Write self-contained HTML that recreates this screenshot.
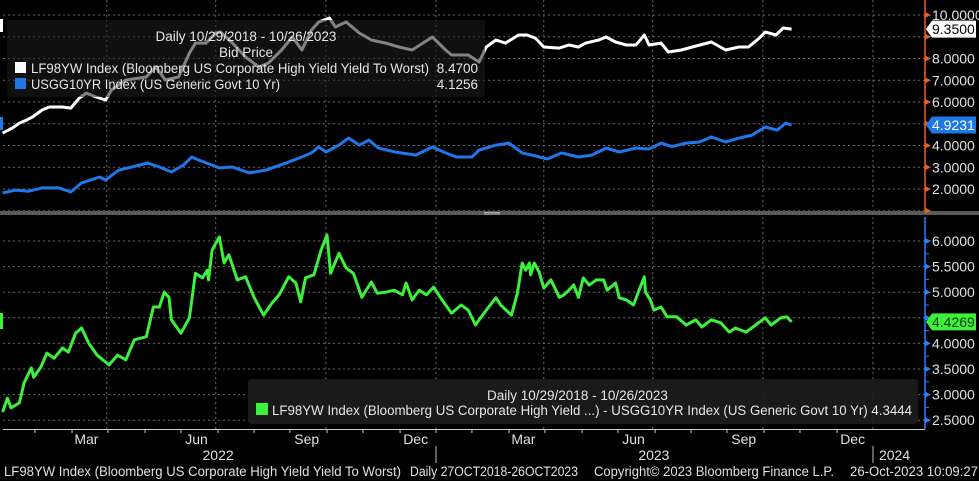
<!DOCTYPE html>
<html><head><meta charset="utf-8"><style>
html,body{margin:0;padding:0;background:#000;}
svg{display:block;font-family:"Liberation Sans",sans-serif;}
</style></head><body>
<svg id="chart" width="979" height="481" viewBox="0 0 979 481" xmlns="http://www.w3.org/2000/svg">
<rect x="0" y="0" width="979" height="481" fill="#000"/>
<g id="grid"></g>
<g id="series"></g>
<g id="axes"></g>
<g id="overlay"></g>
</svg>
<script>
// ---- data ----
const hyDays = [3,11,17,23,28,36,42,53,60,67,73,81,89,94,106,123,131,139,150,159,164,173,181,185,195,206,217,225,236,245,253,261,267,276,281,290,301,311,323,334,345,362,373,378,392,401,407,415,423,434,441,448,455,468,476,484,490,501,507,515,524,532,539,543,553,559,570,579,595,607,618,626,635,640,649,655,662];
const hyValues = [4.57,4.80,5.03,5.17,5.31,5.63,5.77,5.77,5.72,6.18,6.41,6.23,6.09,6.55,7.01,7.15,7.61,7.01,7.15,8.25,8.71,8.71,9.17,9.22,8.71,8.07,7.61,7.79,8.39,8.99,8.39,9.31,9.68,9.86,9.45,9.68,9.17,8.85,8.71,8.53,8.39,8.99,8.39,8.16,8.16,7.84,8.53,8.85,8.71,9.08,9.08,8.94,8.53,8.48,8.62,8.53,8.71,8.85,8.99,8.76,8.62,8.62,9.08,8.62,8.71,8.30,8.39,8.53,8.76,8.39,8.53,8.53,8.94,9.22,9.08,9.40,9.35];
const tyDays = [3,14,25,36,50,60,69,84,89,100,111,124,134,144,154,161,167,178,184,195,209,223,240,251,261,267,273,284,292,301,309,317,331,348,362,373,382,395,401,415,426,437,445,458,470,484,495,507,518,532,543,553,562,574,585,595,607,618,629,640,650,657,662];
const tyValues = [1.82,1.95,1.90,2.05,2.05,1.86,2.28,2.55,2.41,2.87,3.01,3.20,3.01,2.78,3.10,3.47,3.33,3.10,2.97,3.01,2.74,2.87,3.20,3.43,3.66,3.93,3.70,4.02,4.34,4.02,4.25,3.88,3.70,3.56,3.93,3.66,3.47,3.47,3.79,4.02,4.11,3.66,3.56,3.38,3.66,3.47,3.56,3.88,3.70,3.88,3.84,4.11,3.95,4.11,4.16,4.39,4.16,4.34,4.48,4.85,4.71,5.03,4.94];
const spDays = [3,7,10,17,21,27,29,35,40,46,53,58,64,69,75,82,92,99,106,113,123,129,134,138,142,144,152,159,164,170,174,175,178,184,188,192,199,206,213,221,228,234,242,248,252,256,263,269,274,277,284,290,296,303,311,316,323,330,337,340,345,351,357,363,370,378,386,392,398,401,407,415,419,428,433,437,440,443,444,447,451,455,461,468,472,476,480,484,488,493,499,505,508,515,518,524,530,534,539,540,544,547,553,558,566,574,582,587,595,603,610,615,624,632,640,645,653,658,662];
const spValues = [2.66,2.93,2.74,2.84,3.23,3.52,3.34,3.54,3.81,3.71,3.91,3.83,4.20,4.30,4.0,3.77,3.58,3.77,3.68,4.07,4.13,4.71,4.71,5.0,4.9,4.46,4.20,4.5,5.37,5.28,5.43,5.24,5.82,6.08,5.57,5.73,5.24,5.30,4.9,4.55,4.79,4.95,5.3,5.18,4.81,5.28,5.34,5.82,6.12,5.37,5.76,5.47,5.37,4.9,5.2,4.98,5.0,5.04,4.95,5.18,4.85,5.04,4.95,5.1,4.85,4.59,4.75,4.65,4.36,4.46,4.65,4.89,4.75,4.55,4.98,5.57,5.43,5.57,5.34,5.57,5.40,5.08,5.24,4.9,4.95,5.04,5.14,4.9,5.28,5.14,5.24,5.24,5.04,5.18,4.89,4.85,4.75,5.0,5.30,5.0,4.85,4.65,4.71,4.52,4.52,4.36,4.46,4.32,4.46,4.40,4.22,4.30,4.22,4.36,4.5,4.36,4.5,4.52,4.42];
const upperTicks = [10,9,8,7,6,5,4,3,2,1];
const upperTickLabels = ["10.0000","","8.0000","7.0000","6.0000","","4.0000","3.0000","2.0000",""];
const lowerTicks = [6.0,5.5,5.0,4.5,4.0,3.5,3.0,2.5];
const lowerTickLabels = ["6.0000","5.5000","5.0000","","4.0000","3.5000","3.0000","2.5000"];
const monthLabels = ["Mar","Jun","Sep","Dec","Mar","Jun","Sep","Dec"];
const monthLabelDays = [73,165,257,348,438,530,622,713];
const gridDays = [90,181,273,365,455,546,638,730];
const yearLabels = ["2022","2023","2024"];
const yearLabelDays = [183,547,748];
const lastHY = "9.3500", lastTY = "4.9231", lastSP = "4.4269";

// ---- scales ----
const NS = "http://www.w3.org/2000/svg";
const xDay = d => -1 + d * 437 / 365;
const yUp = v => 15 + (10 - v) * 21.75;
const yLo = v => 241 + (6 - v) * 51.2;
function mk(tag, attrs, parent, text){
  const e = document.createElementNS(NS, tag);
  for (const k in attrs) e.setAttribute(k, attrs[k]);
  if (text !== undefined) e.textContent = text;
  parent.appendChild(e); return e;
}
const grid = document.getElementById('grid');
const series = document.getElementById('series');
const axes = document.getElementById('axes');
const overlay = document.getElementById('overlay');
const dot = {stroke:"#6a6a6a","stroke-width":1,"stroke-dasharray":"2,3"};

// grid
upperTicks.forEach(v => {
  const l = mk('line', Object.assign({x1:3,x2:925,y1:yUp(v),y2:yUp(v)}, dot), grid);
  
  
});
lowerTicks.forEach(v => {
  const l = mk('line', Object.assign({x1:3,x2:925,y1:yLo(v),y2:yLo(v)}, dot), grid);
  
  
});
gridDays.forEach(d => {
  const l1 = mk('line', Object.assign({x1:xDay(d),x2:xDay(d),y1:0,y2:210}, dot), grid);
  
  
  const l2 = mk('line', Object.assign({x1:xDay(d),x2:xDay(d),y1:217,y2:429}, dot), grid);
  
  
});

// series
function drawLine(days, vals, yf, color, name){
  const pts = days.map((d,i) => xDay(d).toFixed(1) + "," + yf(vals[i]).toFixed(1)).join(" ");
  const p = mk('polyline', {points:pts, fill:"none", stroke:color, "stroke-width":3, "stroke-linejoin":"round"}, series);
  
  
}
drawLine(hyDays, hyValues, yUp, "#ffffff", "hy-yield-line");
drawLine(tyDays, tyValues, yUp, "#1f78ea", "us10y-line");
drawLine(spDays, spValues, yLo, "#3cf03c", "spread-line");

// separator
const sep = mk('rect', {x:0,y:211,width:979,height:4,fill:"#5a5a5a"}, axes);


mk('line',{x1:484,x2:500,y1:212.5,y2:212.5,stroke:"#aaa","stroke-width":1},axes);
mk('line',{x1:484,x2:500,y1:214,y2:214,stroke:"#aaa","stroke-width":1},axes);

// right axes
const ua = mk('line',{x1:925,x2:925,y1:0,y2:211,stroke:"#e8602c","stroke-width":1.5},axes);
 
const la = mk('line',{x1:925,x2:925,y1:217,y2:429,stroke:"#2a7fff","stroke-width":1.5},axes);
 
upperTicks.forEach((v,i) => {
  const y = yUp(v);
  mk('path',{d:`M925 ${y-3} L931 ${y} L925 ${y+3}Z`,fill:"#e8602c"},axes);
  if (upperTickLabels[i]) {
    const t = mk('text',{x:932,y:y+5,fill:"#e0e0e0","font-size":14},axes,upperTickLabels[i]);
     
  }
});
lowerTicks.forEach((v,i) => {
  const y = yLo(v);
  mk('path',{d:`M925 ${y-3} L931 ${y} L925 ${y+3}Z`,fill:"#2a7fff"},axes);
  if (lowerTickLabels[i]) {
    const t = mk('text',{x:932,y:y+5,fill:"#e0e0e0","font-size":14},axes,lowerTickLabels[i]);
     
  }
});
for (let v = 5.75; v > 2.4; v -= 0.5) mk('line',{x1:925,x2:929,y1:yLo(v),y2:yLo(v),stroke:"#2a7fff"},axes);

// last value tags
function tag(v, yf, bg, fg, txt, name){
  const y = yf(v);
  const g = mk('g',{},overlay);
  
  
  mk('path',{d:`M926 ${y} L932 ${y-8.5} L976 ${y-8.5} L976 ${y+8.5} L932 ${y+8.5}Z`,fill:bg},g);
  mk('text',{x:932,y:y+5,fill:fg,"font-size":14},g,txt);
}
tag(hyValues[hyValues.length-1], yUp, "#ffffff", "#000", lastHY, "hy-last-value-tag");
tag(tyValues[tyValues.length-1], yUp, "#1f78ea", "#fff", lastTY, "us10y-last-value-tag");
tag(spValues[spValues.length-1], yLo, "#3cf03c", "#0a3a0a", lastSP, "spread-last-value-tag");

// left markers
mk('rect',{x:0,y:19,width:3,height:13,fill:"#fff"},overlay);
mk('rect',{x:0,y:117,width:3,height:13,fill:"#1f78ea"},overlay);
mk('rect',{x:0,y:313,width:3,height:16,fill:"#3cf03c"},overlay);

// x axis
const xa = mk('line',{x1:3,x2:925,y1:429.5,y2:429.5,stroke:"#cfcfcf","stroke-width":1},axes);
 
for (let m = 1; m < 24; m++) {
  const d = Math.round(m * 365 / 12);
  mk('line',{x1:xDay(d),x2:xDay(d),y1:429,y2:433,stroke:"#cfcfcf"},axes);
}
monthLabels.forEach((s,i) => {
  const t = mk('text',{x:xDay(monthLabelDays[i]),y:444,fill:"#e0e0e0","font-size":14,"text-anchor":"middle"},axes,s);
   
});
yearLabels.forEach((s,i) => {
  const t = mk('text',{x:xDay(yearLabelDays[i]),y:460,fill:"#e0e0e0","font-size":14,"text-anchor":"middle"},axes,s);
   
});
[365,730].forEach(d => mk('line',{x1:xDay(d),x2:xDay(d),y1:446,y2:463,stroke:"#bbb"},axes));

// upper legend
const lg = mk('g',{},overlay);


mk('rect',{x:7,y:20,width:478,height:77,rx:3,fill:"rgba(30,30,30,0.55)"},lg);
mk('text',{x:246,y:41,fill:"#e6e6e6","font-size":13.5,"text-anchor":"middle"},lg,"Daily 10/29/2018 - 10/26/2023");
mk('text',{x:246,y:57,fill:"#e6e6e6","font-size":13.5,"text-anchor":"middle"},lg,"Bid Price");
mk('rect',{x:15,y:62,width:11,height:11,fill:"#fff"},lg);
mk('text',{x:31,y:73,fill:"#e6e6e6","font-size":13.5,textLength:398,lengthAdjust:"spacingAndGlyphs"},lg,"LF98YW Index (Bloomberg US Corporate High Yield Yield To Worst)");
mk('text',{x:478,y:73,fill:"#e6e6e6","font-size":13.5,"text-anchor":"end"},lg,"8.4700");
mk('rect',{x:15,y:78,width:11,height:11,fill:"#1f78ea"},lg);
mk('text',{x:31,y:89,fill:"#e6e6e6","font-size":13.5,textLength:249,lengthAdjust:"spacingAndGlyphs"},lg,"USGG10YR Index (US Generic Govt 10 Yr)");
mk('text',{x:478,y:89,fill:"#e6e6e6","font-size":13.5,"text-anchor":"end"},lg,"4.1256");

// lower legend
const lg2 = mk('g',{},overlay);


mk('rect',{x:248,y:379,width:670,height:45,rx:3,fill:"rgba(28,28,28,0.92)"},lg2);
mk('text',{x:487,y:400,fill:"#e6e6e6","font-size":13.5},lg2,"Daily 10/29/2018 - 10/26/2023");
mk('rect',{x:256,y:403,width:12,height:12,fill:"#3cf03c"},lg2);
mk('text',{x:272,y:415,fill:"#e6e6e6","font-size":13.5,textLength:640,lengthAdjust:"spacingAndGlyphs"},lg2,"LF98YW Index (Bloomberg US Corporate High Yield ...) - USGG10YR Index (US Generic Govt 10 Yr) 4.3444");

// footer
const ft = mk('g',{},overlay);


mk('text',{x:4,y:476,fill:"#e0e0e0","font-size":13.5,textLength:397,lengthAdjust:"spacingAndGlyphs"},ft,"LF98YW Index (Bloomberg US Corporate High Yield Yield To Worst)");
mk('text',{x:410,y:476,fill:"#e0e0e0","font-size":13.5,textLength:168,lengthAdjust:"spacingAndGlyphs"},ft,"Daily 27OCT2018-26OCT2023");
mk('text',{x:594,y:476,fill:"#e0e0e0","font-size":13.5,textLength:240,lengthAdjust:"spacingAndGlyphs"},ft,"Copyright© 2023 Bloomberg Finance L.P.");
mk('text',{x:850,y:476,fill:"#e0e0e0","font-size":13.5,textLength:128,lengthAdjust:"spacingAndGlyphs"},ft,"26-Oct-2023 10:09:27");
</script>
</body></html>
